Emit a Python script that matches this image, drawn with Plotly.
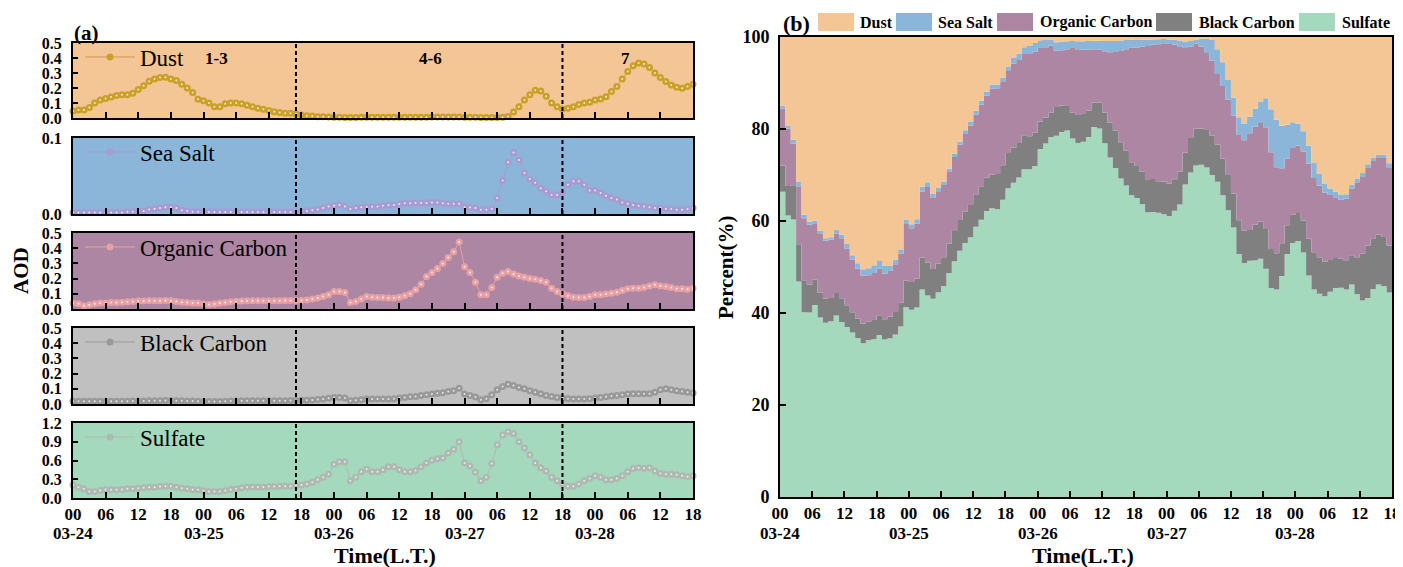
import plotly.graph_objects as go

# ---------------- data (hourly, 03-24 00 -> 03-28 18 local time) ----------------
hours = list(range(115))
day_labels = ["03-24", "03-25", "03-26", "03-27", "03-28"]
hour_labels = ["00", "06", "12", "18"]
species = ["Dust", "Sea Salt", "Organic Carbon", "Black Carbon", "Sulfate"]

dust = [
    0.047, 0.054, 0.054, 0.07, 0.10, 0.12, 0.13, 0.14, 0.15, 0.155,
    0.155, 0.165, 0.19, 0.215, 0.245, 0.26, 0.27, 0.272, 0.26, 0.25,
    0.225, 0.20, 0.17, 0.125, 0.115, 0.10, 0.075, 0.075, 0.095, 0.10,
    0.10, 0.095, 0.085, 0.075, 0.065, 0.058, 0.05, 0.042, 0.036, 0.031,
    0.031, 0.027, 0.02, 0.015, 0.013, 0.009, 0.009, 0.007, 0.005, 0.005,
    0.004, 0.004, 0.004, 0.005, 0.005, 0.005, 0.005, 0.005, 0.005, 0.005,
    0.005, 0.005, 0.005, 0.005, 0.005, 0.005, 0.006, 0.006, 0.006, 0.006,
    0.006, 0.006, 0.005, 0.005, 0.005, 0.004, 0.004, 0.004, 0.004, 0.005,
    0.01, 0.04, 0.075, 0.12, 0.155, 0.185, 0.18, 0.145, 0.10, 0.075,
    0.06, 0.065, 0.075, 0.09, 0.10, 0.105, 0.12, 0.127, 0.142, 0.176,
    0.21, 0.26, 0.31, 0.348, 0.366, 0.36, 0.337, 0.30, 0.27, 0.243,
    0.22, 0.205, 0.198, 0.21, 0.225,
]
sea_salt = [
    0.002, 0.002, 0.002, 0.002, 0.002, 0.002, 0.002, 0.002, 0.002, 0.002,
    0.003, 0.003, 0.004, 0.004, 0.006, 0.007, 0.008, 0.009, 0.009, 0.008,
    0.005, 0.004, 0.003, 0.003, 0.0025, 0.0025, 0.0025, 0.0025, 0.0025, 0.0025,
    0.0025, 0.0025, 0.0025, 0.0025, 0.0025, 0.0025, 0.0025, 0.0025, 0.0025, 0.0025,
    0.0025, 0.0025, 0.0025, 0.004, 0.005, 0.006, 0.008, 0.010, 0.011, 0.012,
    0.010, 0.0066, 0.008, 0.009, 0.0092, 0.0096, 0.010, 0.011, 0.0115, 0.012,
    0.013, 0.014, 0.0143, 0.0145, 0.0145, 0.0145, 0.015, 0.015, 0.014, 0.0136,
    0.0136, 0.0136, 0.0088, 0.0085, 0.008, 0.0057, 0.0057, 0.007, 0.021, 0.044,
    0.068, 0.081, 0.071, 0.054, 0.046, 0.041, 0.034, 0.030, 0.025, 0.025,
    0.0285, 0.0386, 0.043, 0.043, 0.0386, 0.031, 0.031, 0.0276, 0.024, 0.021,
    0.019, 0.015, 0.0136, 0.012, 0.011, 0.010, 0.009, 0.008, 0.008, 0.007,
    0.0065, 0.0057, 0.0057, 0.0065, 0.008,
]
organic_carbon = [
    0.039, 0.035, 0.022, 0.028, 0.035, 0.039, 0.04, 0.043, 0.043, 0.045,
    0.048, 0.05, 0.052, 0.052, 0.054, 0.054, 0.054, 0.056, 0.054, 0.05,
    0.045, 0.043, 0.039, 0.039, 0.033, 0.03, 0.033, 0.039, 0.043, 0.048,
    0.05, 0.052, 0.054, 0.054, 0.054, 0.054, 0.054, 0.054, 0.054, 0.056,
    0.056, 0.056, 0.056, 0.06, 0.065, 0.072, 0.083, 0.093, 0.115, 0.115,
    0.108, 0.043, 0.05, 0.065, 0.083, 0.078, 0.076, 0.076, 0.072, 0.072,
    0.078, 0.087, 0.10, 0.126, 0.163, 0.213, 0.24, 0.267, 0.30, 0.339,
    0.376, 0.44, 0.278, 0.24, 0.176, 0.093, 0.093, 0.141, 0.209, 0.235,
    0.246, 0.23, 0.217, 0.209, 0.20, 0.196, 0.187, 0.176, 0.137, 0.115,
    0.10, 0.087, 0.078, 0.076, 0.076, 0.083, 0.093, 0.093, 0.098, 0.104,
    0.11, 0.122, 0.133, 0.137, 0.137, 0.141, 0.152, 0.159, 0.152, 0.148,
    0.141, 0.133, 0.133, 0.13, 0.137,
]
black_carbon = [
    0.018, 0.018, 0.018, 0.018, 0.018, 0.018, 0.018, 0.018, 0.018, 0.018,
    0.018, 0.02, 0.02, 0.02, 0.021, 0.022, 0.022, 0.023, 0.023, 0.022,
    0.021, 0.02, 0.019, 0.018, 0.017, 0.016, 0.016, 0.017, 0.018, 0.019,
    0.02, 0.021, 0.022, 0.022, 0.022, 0.022, 0.022, 0.022, 0.022, 0.022,
    0.023, 0.023, 0.024, 0.025, 0.027, 0.03, 0.033, 0.038, 0.043, 0.043,
    0.039, 0.022, 0.024, 0.028, 0.033, 0.033, 0.033, 0.033, 0.033, 0.035,
    0.039, 0.043, 0.048, 0.05, 0.056, 0.061, 0.065, 0.07, 0.074, 0.083,
    0.087, 0.104, 0.065, 0.056, 0.046, 0.028, 0.035, 0.061, 0.093, 0.115,
    0.13, 0.122, 0.109, 0.10, 0.087, 0.078, 0.067, 0.056, 0.05, 0.043,
    0.039, 0.035, 0.033, 0.033, 0.033, 0.035, 0.039, 0.043, 0.048, 0.052,
    0.056, 0.061, 0.065, 0.067, 0.067, 0.067, 0.067, 0.078, 0.093, 0.10,
    0.093, 0.087, 0.083, 0.078, 0.072,
]
sulfate = [
    0.209, 0.172, 0.146, 0.104, 0.104, 0.12, 0.136, 0.13, 0.13, 0.136,
    0.146, 0.146, 0.156, 0.162, 0.172, 0.172, 0.183, 0.188, 0.188, 0.172,
    0.156, 0.146, 0.136, 0.13, 0.115, 0.104, 0.104, 0.104, 0.12, 0.136,
    0.146, 0.162, 0.172, 0.177, 0.177, 0.177, 0.183, 0.183, 0.188, 0.188,
    0.188, 0.198, 0.209, 0.224, 0.25, 0.29, 0.33, 0.38, 0.54, 0.58,
    0.58, 0.277, 0.33, 0.42, 0.46, 0.42, 0.42, 0.45, 0.50, 0.50,
    0.45, 0.42, 0.42, 0.44, 0.50, 0.56, 0.605, 0.626, 0.64, 0.72,
    0.78, 0.90, 0.56, 0.51, 0.41, 0.277, 0.33, 0.55, 0.85, 1.007,
    1.06, 1.03, 0.90, 0.80, 0.69, 0.56, 0.485, 0.43, 0.33, 0.277,
    0.224, 0.188, 0.188, 0.224, 0.277, 0.313, 0.355, 0.33, 0.29, 0.29,
    0.313, 0.355, 0.42, 0.47, 0.485, 0.475, 0.485, 0.43, 0.39, 0.38,
    0.38, 0.37, 0.355, 0.34, 0.355,
]
series = [dust, sea_salt, organic_carbon, black_carbon, sulfate]

period_lines = [41, 90]
period_labels = ["1-3", "4-6", "7"]
period_label_x = [26.4, 65.8, 101.5]

# ---------------- styling ----------------
W, H = 1403, 567
OFF = 8  # page body margin: figure is drawn 8px right / 8px down
SERIF = "Liberation Serif"
bg_colors = ["#F4C595", "#8CB6D9", "#AC86A3", "#C0C0C0", "#A4D9BD"]
marker_colors = ["#C9A128", "#A79CD2", "#E7A1A5", "#999999", "#AEB9B2"]
line_colors = ["#C99A55", "#A79CD2", "#E7A1A5", "#999999", "#AEB9B2"]
area_colors = ["#F4C595", "#8CB6D9", "#AC86A3", "#808080", "#A4D9BD"]
y_ranges = [[0, 0.5], [0, 0.1], [0, 0.5], [0, 0.5], [0, 1.2]]
y_dticks = [0.1, 0.1, 0.1, 0.1, 0.3]
# subplot pixel boxes (top, bottom) in screen pixels
boxes = [(43, 118), (138, 214), (233, 309), (328, 404), (423, 498)]
ax_left, ax_right = 73, 693
b_left, b_right, b_top, b_bottom = 780, 1392, 37, 497


def px_x(p):
    return (p - OFF) / W


def px_y(p):
    return 1 - (p - OFF) / H


tick_vals = list(range(0, 115, 6))
tick_text = [hour_labels[(v % 24) // 6] for v in tick_vals]
day_vals = list(range(0, 115, 24))

xtickfont = dict(family=SERIF, size=17, color="black", weight="bold")
ytickfont = dict(family=SERIF, size=16, color="black", weight="bold")
datefont = dict(family=SERIF, size=17, color="black", weight="bold")

fig = go.Figure()
layout = dict(
    width=W, height=H, autosize=False,
    margin=dict(l=0, r=0, t=0, b=0, pad=0, autoexpand=False),
    paper_bgcolor="white", plot_bgcolor="rgba(0,0,0,0)",
    showlegend=True,
    font=dict(family=SERIF, color="black"),
)
shapes = []
annotations = []

for i, (name, vals) in enumerate(zip(species, series)):
    n = i + 1
    xs = "x" if n == 1 else f"x{n}"
    ys = "y" if n == 1 else f"y{n}"
    xa = "xaxis" if n == 1 else f"xaxis{n}"
    ya = "yaxis" if n == 1 else f"yaxis{n}"
    lg = "legend" if n == 1 else f"legend{n}"
    top, bot = boxes[i]
    fig.add_trace(go.Scatter(
        x=hours, y=vals, name=name, mode="lines+markers", xaxis=xs, yaxis=ys,
        line=dict(color=line_colors[i], width=1),
        marker=dict(color=marker_colors[i], size=7, line=dict(width=0)),
        cliponaxis=False, legend=lg, showlegend=True,
    ))
    fig.add_trace(go.Scatter(
        x=hours, y=vals, mode="markers", xaxis=xs, yaxis=ys,
        marker=dict(color="rgba(255,255,255,0.75)", size=2),
        cliponaxis=False, showlegend=False, hoverinfo="skip",
    ))
    layout[xa] = dict(
        domain=[px_x(ax_left), px_x(ax_right)], range=[0, 114], anchor=ys,
        showgrid=False, zeroline=False, showline=True, linecolor="black",
        linewidth=2, mirror=True, ticks="inside", ticklen=6, tickwidth=2,
        tickcolor="black", tickvals=tick_vals, ticktext=tick_text,
        showticklabels=(n == 5), tickfont=xtickfont, automargin=False,
    )
    layout[ya] = dict(
        domain=[px_y(bot), px_y(top)], range=y_ranges[i], anchor=xs,
        showgrid=False, zeroline=False, showline=True, linecolor="black",
        linewidth=2, mirror=True, ticks="inside", ticklen=5, tickwidth=2,
        tickcolor="black", dtick=y_dticks[i], tick0=0, tickformat=".1f",
        tickfont=ytickfont, ticklabelstandoff=6, automargin=False,
    )
    layout[lg] = dict(
        x=px_x(80), y=px_y(top + 14), xanchor="left", yanchor="middle",
        bgcolor="rgba(0,0,0,0)", borderwidth=0, itemwidth=50,
        font=dict(family=SERIF, size=23, color="black"),
    )
    shapes.append(dict(type="rect", xref=f"{xs} domain", yref=f"{ys} domain",
                       x0=0, x1=1, y0=0, y1=1, fillcolor=bg_colors[i],
                       line=dict(width=0), layer="below"))
    for xv in period_lines:
        shapes.append(dict(type="line", xref=xs, yref=f"{ys} domain",
                           x0=xv, x1=xv, y0=0, y1=1,
                           line=dict(color="black", width=2, dash="4px,3px")))

for lab, xv in zip(period_labels, period_label_x):
    annotations.append(dict(text=lab, x=xv, y=0.395, xref="x", yref="y",
                            xanchor="center", yanchor="middle", showarrow=False,
                            font=dict(family=SERIF, size=17, weight="bold", color="black")))

# ---------------- panel (b): percentage stacked steps ----------------
for idx in [4, 3, 2, 1, 0]:
    fig.add_trace(go.Scatter(
        x=hours, y=series[idx], name=species[idx], mode="lines",
        xaxis="x6", yaxis="y6", stackgroup="pct", groupnorm="percent",
        line=dict(width=0, shape="hv", color=area_colors[idx]),
        fillcolor=area_colors[idx], showlegend=False,
    ))
layout["xaxis6"] = dict(
    domain=[px_x(b_left), px_x(b_right)], range=[0, 114], anchor="y6",
    showgrid=False, zeroline=False, showline=True, linecolor="black",
    linewidth=2, mirror=True, ticks="inside", ticklen=6, tickwidth=2,
    tickcolor="black", tickvals=tick_vals, ticktext=tick_text, tickfont=xtickfont,
    layer="above traces", automargin=False,
)
layout["yaxis6"] = dict(
    domain=[px_y(b_bottom), px_y(b_top)], range=[0, 100], anchor="x6",
    showgrid=False, zeroline=False, showline=True, linecolor="black",
    linewidth=2, mirror=True, ticks="inside", ticklen=6, tickwidth=2,
    tickcolor="black", dtick=20, ticklabelstandoff=5,
    tickfont=dict(family=SERIF, size=18, color="black", weight="bold"),
    layer="above traces", automargin=False,
)

# date labels under the hour ticks
for xr in ["x5", "x6"]:
    for dv, dl in zip(day_vals, day_labels):
        annotations.append(dict(text=dl, x=dv, y=px_y(533), xref=xr, yref="paper",
                                xanchor="center", yanchor="middle", showarrow=False,
                                font=datefont))

# manual legend for panel (b)
leg_items = [(818, 854, 858), (896, 932, 936), (997, 1033, 1038), (1156, 1192, 1197), (1299, 1335, 1340)]
for k, (x0, x1, tx) in enumerate(leg_items):
    shapes.append(dict(type="rect", xref="paper", yref="paper",
                       x0=px_x(x0), x1=px_x(x1), y0=px_y(31), y1=px_y(13),
                       fillcolor=area_colors[k], line=dict(width=0)))
    annotations.append(dict(text=species[k], x=px_x(tx), y=px_y(22), xref="paper", yref="paper",
                            xanchor="left", yanchor="middle", showarrow=False,
                            font=dict(family=SERIF, size=16, weight="bold", color="black")))

# panel labels and axis titles
ttl = dict(family=SERIF, size=22, weight="bold", color="black")
annotations += [
    dict(text="(a)", x=px_x(72), y=px_y(33), xref="paper", yref="paper", xanchor="left",
         yanchor="middle", showarrow=False, font=dict(family=SERIF, size=21, weight="bold")),
    dict(text="(b)", x=px_x(781), y=px_y(23), xref="paper", yref="paper", xanchor="left",
         yanchor="middle", showarrow=False, font=ttl),
    dict(text="AOD", x=px_x(21), y=px_y(271), xref="paper", yref="paper", textangle=-90,
         xanchor="center", yanchor="middle", showarrow=False,
         font=dict(family=SERIF, size=21, weight="bold")),
    dict(text="Percent(%)", x=px_x(726), y=px_y(267), xref="paper", yref="paper", textangle=-90,
         xanchor="center", yanchor="middle", showarrow=False,
         font=dict(family=SERIF, size=21, weight="bold")),
    dict(text="Time(L.T.)", x=px_x(385), y=px_y(555), xref="paper", yref="paper",
         xanchor="center", yanchor="middle", showarrow=False, font=ttl),
    dict(text="Time(L.T.)", x=px_x(1083), y=px_y(555), xref="paper", yref="paper",
         xanchor="center", yanchor="middle", showarrow=False, font=ttl),
]

layout["shapes"] = shapes
layout["annotations"] = annotations
fig.update_layout(**layout)
fig.write_html("out.html")
